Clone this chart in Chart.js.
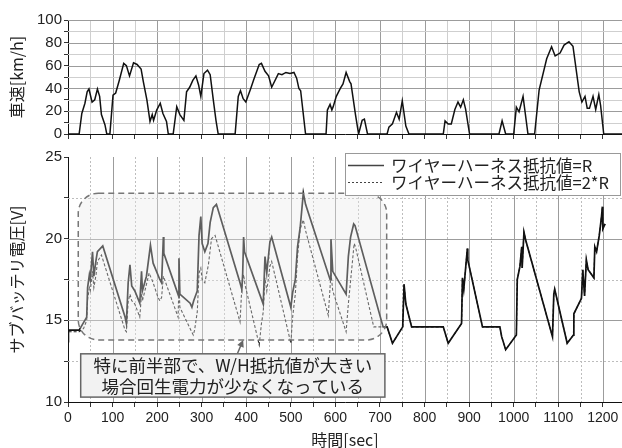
<!DOCTYPE html>
<html>
<head>
<meta charset="utf-8">
<script src="https://cdn.jsdelivr.net/npm/chart.js@4.4.1/dist/chart.umd.min.js"></script>
<style>
  html, body { margin: 0; padding: 0; background: #fff; }
  #wrap { position: relative; width: 622px; height: 448px; overflow: hidden; }
  #speedChart { position: absolute; left: 0; top: 0; }
  #voltChart { position: absolute; left: 0; top: 140px; }
</style>
</head>
<body>
<div id="wrap">
  <canvas id="speedChart" width="622" height="150"></canvas>
  <canvas id="voltChart" width="622" height="308"></canvas>
</div>
<script>
// --- data ---
const timeTicks = [0, 100, 200, 300, 400, 500, 600, 700, 800, 900, 1000, 1100, 1200];
const speedTicks = [0, 20, 40, 60, 80, 100];
const voltTicks = [10, 15, 20, 25];

// vehicle speed [km/h]
const speedTime = [0,25,31,38,43,47,54,60,66,71,75,83,87,94,101,107,115,125,131,138,
  147,155,164,169,177,184,189,192,199,207,213,221,225,236,244,251,260,266,273,280,
  287,293,298,305,313,319,326,332,337,375,382,387,393,399,410,417,429,434,442,450,
  457,472,480,489,498,507,513,518,522,533,579,582,588,592,595,602,611,617,624,632,
  635,645,652,660,665,672,716,720,728,737,743,750,758,765,842,846,853,860,868,875,
  881,887,892,901,967,974,982,1000,1006,1012,1021,1032,1047,1057,1074,1085,1093,1104,1113,1124,
  1133,1147,1153,1160,1165,1170,1178,1184,1191,1195,1202,1243];
const speedKmh = [0,0,18,27,37,39.5,28,30,39.5,33,17,8,0,0,34,36,47,62,60,51,
  62.5,61,57,46,30,11,17,12,21,27,18,11,0,0,24,17,12,37,41,47,
  51,43,33,53,56,52,30,12,0,0,33,38,31,28,40,48,61,62,55,51,
  41,53,52,54,53,54,49,40,38,0,0,21,26,21,24,33,40,44,54,46,
  44,17,0,12,13,0,0,6,9,19,13,29,7,0,0,11.5,8.8,8.8,21.5,28,
  23.5,30,22,0,0,11.5,0,0,23.5,19.5,33,0,0,38.5,66,76.6,68.5,71,78,81,
  77,37,28,33,22.5,22.5,33,21.5,34.5,25,0,0];

// sub battery voltage [V], first half (lines differ)
const frontTimeR = [0,1,25,42,44,48,50,55,58,63,66,78,128,131,135,139,143,150,161,165,
  167,176,185,191,206,210,214,215,248,249,251,274,278,282,290,294,298,301,307,314,
  319,326,333,386,390,392,394,396,438,442,446,453,457,500,504,510,515,521,528,533,
  588,590,594,624,629,634,641,644];
const frontVoltR = [13.7,14.4,14.4,15.2,17.0,17.8,17.5,19.2,17.7,18.7,19.2,19.55,15.2,14.8,17.3,18.4,17.1,16.8,16.05,18.0,
  16.8,17.7,19.6,18.5,17.5,17.3,20.1,19.1,16.5,18.8,16.6,16.05,15.8,16.2,16.8,20.2,21.35,19.7,19.2,19.7,
  21.0,21.9,22.1,17.3,16.9,17.9,20.1,19.2,16.0,18.9,17.9,19.8,20.1,15.8,16.7,17.5,19.5,20.7,22.8,22.1,
  17.5,19.97,18.0,16.6,18.9,20.1,20.9,20.8];
const frontTime2R = [0,1,25,35,42,44,48,50,55,58,63,66,75,128,131,135,139,143,150,161,
  165,167,176,182,191,202,206,210,214,247,249,251,281,284,290,294,298,301,307,315,
  322,330,386,390,394,397,429,434,438,442,446,453,457,500,504,510,515,521,528,533,
  584,590,594,624,629,634,642,645,686];
const frontVolt2R = [13.7,14.3,14.3,14.5,15.0,16.3,17.0,16.8,18.0,17.0,17.8,18.6,19.0,14.4,14.3,16.15,16.6,16.2,16.0,15.2,
  16.6,16.2,17.2,17.9,17.3,16.4,16.2,16.4,17.7,15.2,17.2,15.8,14.1,14.4,15.5,17.9,18.2,17.5,17.3,18.4,
  20.0,20.2,14.9,17.0,17.8,17.2,13.5,14.8,15.5,17.6,16.8,18.3,18.6,13.6,15.2,16.6,18.9,20.6,21.15,20.5,
  15.3,17.9,16.8,14.3,16.0,17.4,19.7,19.5,14.6];
// second half (both lines overlap)
const tailTime = [707,716,728,751,754,758,771,842,853,883,885,888,896,897,930,969,973,982,1006,1008,
  1014,1018,1019,1023,1027,1087,1090,1092,1120,1134,1135,1152,1155,1159,1163,1167,1180,1182,1186,1192,
  1197,1199,1200,1205];
const tailVolt = [14.6,14.6,13.6,14.6,17.2,16.0,14.6,14.6,13.6,14.8,17.6,16.9,19.4,18.7,14.6,14.6,14.0,13.2,14.1,17.5,
  18.3,19.5,18.2,20.4,19.9,14.0,16.6,16.9,13.6,14.1,15.4,16.35,18.1,16.5,18.7,18.1,17.6,19.5,19.2,20.2,
  21.35,21.96,20.6,20.9];

const seriesLabels = ['ワイヤーハーネス抵抗値=R', 'ワイヤーハーネス抵抗値=2*R'];
const noteLines = ['特に前半部で、W/H抵抗値が大きい', '場合回生電力が少なくなっている'];

const xMax = 1243;
const jpFont = '"Noto Sans CJK JP", sans-serif';
const numFont = '"Liberation Sans Narrow", "Liberation Sans", sans-serif';

Chart.defaults.font.family = jpFont;
Chart.defaults.color = '#222';

function pts(ts, vs) { return ts.map((t, i) => ({ x: t, y: vs[i] })); }

// major ticks plus midpoints as minor ticks
function withMinor(arr) {
  return function (scale) {
    const out = [];
    arr.forEach((v, i) => {
      out.push({ value: v });
      if (i < arr.length - 1) out.push({ value: (v + arr[i + 1]) / 2 });
    });
    scale.ticks = out;
  };
}
const majorLabel = arr => v => (arr.includes(v) ? v : '');
const noPad = s => { s.paddingTop = 0; s.paddingBottom = 0; s.paddingLeft = 0; s.paddingRight = 0; };

// grid drawn by hand so that minor lines can be dotted
function gridPlugin(xMaj, yMaj, st) {
  return {
    id: 'gridLines',
    beforeDatasetsDraw(chart) {
      const { ctx, chartArea: a, scales: { x, y } } = chart;
      ctx.save();
      ctx.lineWidth = 1;
      const line = (x0, y0, x1, y1, maj) => {
        ctx.strokeStyle = maj ? st.major : st.minor;
        ctx.setLineDash(maj ? [] : st.minorDash);
        ctx.beginPath();
        ctx.moveTo(x0, y0);
        ctx.lineTo(x1, y1);
        ctx.stroke();
      };
      x.ticks.forEach(tk => {
        if (tk.value <= x.min) return;
        const px = Math.round(x.getPixelForValue(tk.value)) + 0.5;
        line(px, a.top, px, a.bottom, xMaj.includes(tk.value));
      });
      y.ticks.forEach(tk => {
        if (tk.value <= y.min) return;
        if (tk.value >= y.max && !st.topLine) return;
        const py = Math.round(y.getPixelForValue(tk.value)) + 0.5;
        line(a.left, py, a.right, py, yMaj.includes(tk.value));
      });
      ctx.restore();
    }
  };
}

// ---------- top: vehicle speed ----------
new Chart(document.getElementById('speedChart'), {
  type: 'line',
  data: {
    datasets: [{
      data: pts(speedTime, speedKmh),
      borderColor: '#111',
      borderWidth: 1.5,
      pointRadius: 0,
      tension: 0
    }]
  },
  options: {
    responsive: false,
    animation: false,
    events: [],
    layout: { padding: { top: 20, left: 0, right: 0, bottom: 0 } },
    plugins: { legend: { display: false }, tooltip: { enabled: false } },
    scales: {
      x: {
        type: 'linear', min: 0, max: xMax,
        afterBuildTicks: withMinor(timeTicks),
        afterFit: s => { s.height = 16; noPad(s); },
        ticks: { display: false, autoSkip: false },
        grid: { drawOnChartArea: false, tickLength: 5, tickColor: '#333' },
        border: { color: '#111' }
      },
      y: {
        min: 0, max: 100,
        afterBuildTicks: withMinor(speedTicks),
        afterFit: s => { s.width = 68; noPad(s); },
        ticks: { callback: majorLabel(speedTicks), autoSkip: false, font: { size: 15, family: numFont }, color: '#222', padding: 2 },
        grid: { drawOnChartArea: false, tickLength: 4, tickColor: '#333' },
        border: { color: '#111' },
        title: { display: true, text: '車速[km/h]', font: { size: 16 }, color: '#222', padding: { top: 7, bottom: 0 } }
      }
    }
  },
  plugins: [gridPlugin(timeTicks, speedTicks, { major: '#9c9c9c', minor: '#cfcfcf', minorDash: [], topLine: true })]
});

// ---------- bottom: sub battery voltage ----------
const noteBox = [23, 715, 22.78, 13.8];      // t0, t1, Vtop, Vbottom
const textBox = [28.5, 711, 12.95, 10.3];
const arrowFrom = [380, 12.95], arrowTo = [393, 13.8];

const notePlugin = {
  id: 'note',
  afterDatasetsDraw(chart) {
    const { ctx, scales: { x, y } } = chart;
    const l = x.getPixelForValue(noteBox[0]), r = x.getPixelForValue(noteBox[1]);
    const t = y.getPixelForValue(noteBox[2]), b = y.getPixelForValue(noteBox[3]);
    ctx.save();
    ctx.beginPath();
    ctx.roundRect(l, t, r - l, b - t, 20);
    ctx.fillStyle = 'rgba(232,232,232,0.36)';
    ctx.fill();
    ctx.setLineDash([6, 4]);
    ctx.strokeStyle = '#777';
    ctx.lineWidth = 1.5;
    ctx.stroke();
    ctx.restore();
  },
  afterDraw(chart) {
    const { ctx, scales: { x, y }, chartArea } = chart;
    ctx.save();
    // arrow
    const ax0 = x.getPixelForValue(arrowFrom[0]), ay0 = y.getPixelForValue(arrowFrom[1]);
    const ax1 = x.getPixelForValue(arrowTo[0]), ay1 = y.getPixelForValue(arrowTo[1]);
    const ang = Math.atan2(ay1 - ay0, ax1 - ax0);
    ctx.strokeStyle = '#666';
    ctx.fillStyle = '#666';
    ctx.lineWidth = 1.5;
    ctx.beginPath();
    ctx.moveTo(ax0, ay0);
    ctx.lineTo(ax1 - 5 * Math.cos(ang), ay1 - 5 * Math.sin(ang));
    ctx.stroke();
    ctx.beginPath();
    ctx.moveTo(ax1, ay1);
    ctx.lineTo(ax1 - 7 * Math.cos(ang) + 3.5 * Math.sin(ang), ay1 - 7 * Math.sin(ang) - 3.5 * Math.cos(ang));
    ctx.lineTo(ax1 - 7 * Math.cos(ang) - 3.5 * Math.sin(ang), ay1 - 7 * Math.sin(ang) + 3.5 * Math.cos(ang));
    ctx.closePath();
    ctx.fill();

    // text box
    const l = x.getPixelForValue(textBox[0]), r = x.getPixelForValue(textBox[1]);
    const t = y.getPixelForValue(textBox[2]), b = y.getPixelForValue(textBox[3]);
    ctx.fillStyle = '#f2f2f2';
    ctx.fillRect(l, t, r - l, b - t);
    ctx.strokeStyle = '#666';
    ctx.lineWidth = 1.5;
    ctx.strokeRect(l, t, r - l, b - t);
    ctx.fillStyle = '#222';
    ctx.font = '17.5px ' + jpFont;
    ctx.textAlign = 'center';
    ctx.textBaseline = 'middle';
    const cx = (l + r) / 2, cy = (t + b) / 2;
    ctx.fillText(noteLines[0], cx, cy - 10);
    ctx.fillText(noteLines[1], cx, cy + 11);

    // legend
    const lx = 345, ly = chartArea.top - 4, lw = 275, lh = 42;
    ctx.fillStyle = '#fff';
    ctx.fillRect(lx, ly, lw, lh);
    ctx.strokeStyle = '#999';
    ctx.lineWidth = 1;
    ctx.strokeRect(lx + 0.5, ly + 0.5, lw, lh);
    const rows = [ly + 12.5, ly + 29.5];
    ctx.strokeStyle = '#444';
    ctx.lineWidth = 1.3;
    ctx.beginPath(); ctx.moveTo(348, rows[0]); ctx.lineTo(384, rows[0]); ctx.stroke();
    ctx.lineWidth = 1;
    ctx.setLineDash([2, 2]);
    ctx.beginPath(); ctx.moveTo(348, rows[1]); ctx.lineTo(384, rows[1]); ctx.stroke();
    ctx.setLineDash([]);
    ctx.fillStyle = '#222';
    ctx.font = '16.5px ' + jpFont;
    ctx.textAlign = 'left';
    ctx.fillText(seriesLabels[0], 391, rows[0]);
    ctx.fillText(seriesLabels[1], 391, rows[1]);
    ctx.restore();
  }
};

new Chart(document.getElementById('voltChart'), {
  type: 'line',
  data: {
    datasets: [
      {
        label: seriesLabels[0],
        data: pts(frontTimeR.concat(tailTime), frontVoltR.concat(tailVolt)),
        borderColor: '#111',
        borderWidth: 1.7,
        pointRadius: 0,
        tension: 0
      },
      {
        label: seriesLabels[1],
        data: pts(frontTime2R.concat(tailTime), frontVolt2R.concat(tailVolt)),
        borderColor: '#222',
        borderWidth: 1.1,
        borderDash: [3, 2],
        pointRadius: 0,
        tension: 0
      }
    ]
  },
  options: {
    responsive: false,
    animation: false,
    events: [],
    layout: { padding: { top: 17, left: 0, right: 0, bottom: 0 } },
    plugins: { legend: { display: false }, tooltip: { enabled: false } },
    scales: {
      x: {
        type: 'linear', min: 0, max: xMax,
        afterBuildTicks: withMinor(timeTicks),
        afterFit: s => { s.height = 46; noPad(s); },
        ticks: { callback: majorLabel(timeTicks), font: { size: 14, family: numFont }, color: '#222', padding: 3, maxRotation: 0, autoSkip: false },
        grid: { drawOnChartArea: false, tickLength: 5, tickColor: '#333' },
        border: { color: '#111' },
        title: { display: true, text: '時間[sec]', font: { size: 16 }, color: '#222', padding: { top: 0, bottom: -2 } }
      },
      y: {
        min: 10, max: 25,
        afterBuildTicks: withMinor(voltTicks),
        afterFit: s => { s.width = 68; noPad(s); },
        ticks: { callback: majorLabel(voltTicks), autoSkip: false, font: { size: 15, family: numFont }, color: '#222', padding: 2 },
        grid: { drawOnChartArea: false, tickLength: 4, tickColor: '#333' },
        border: { color: '#111' },
        title: { display: true, text: 'サブバッテリ電圧[V]', font: { size: 16 }, color: '#222', padding: { top: 7, bottom: 0 } }
      }
    }
  },
  plugins: [gridPlugin(timeTicks, voltTicks, { major: '#9c9c9c', minor: '#bdbdbd', minorDash: [2, 2], topLine: false }), notePlugin]
});
</script>
</body>
</html>
